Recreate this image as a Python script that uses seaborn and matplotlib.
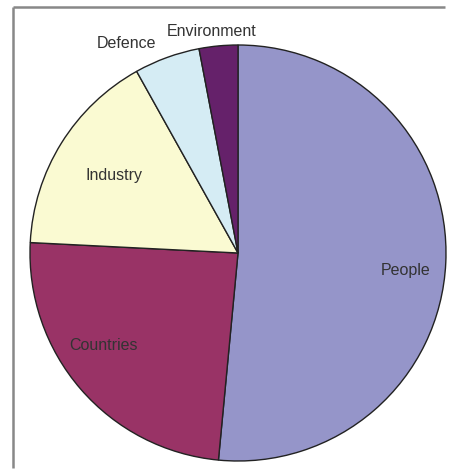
import matplotlib
matplotlib.use("Agg")
import matplotlib.pyplot as plt
import seaborn as sns
from matplotlib.lines import Line2D

categories = ["People", "Countries", "Industry", "Defence", "Environment"]
shares = [51.5, 24.3, 16.1, 5.1, 3.0]
colors = ["#9595c9", "#993366", "#fafad2", "#d5ecf4", "#65216a"]

sns.set_theme(style="white")
plt.rcParams['font.family'] = ['Liberation Sans', 'DejaVu Sans']

W, H = 450, 469
fig = plt.figure(figsize=(W / 100, H / 100), dpi=100)
ax = fig.add_axes([0, 0, 1, 1])

cx, cy, r = 238, H - 253, 208
ax.pie(shares, colors=sns.color_palette(colors), startangle=90, counterclock=False,
       center=(cx, cy), radius=r,
       wedgeprops=dict(edgecolor="#222222", linewidth=1.0))
ax.set_xlim(0, W)
ax.set_ylim(0, H)
ax.set_aspect("equal")
ax.set_axis_off()

label_pos = [(406, 270), (103, 345), (114, 175), (126, 43), (212, 31)]
for name, (x, y) in zip(categories, label_pos):
    ax.text(x, H - y, name, ha="center", va="center", fontsize=11.5, color="#333333")

# frame lines (top and left)
fig.add_artist(Line2D([13 / W, 445 / W], [1 - 7 / H, 1 - 7 / H], transform=fig.transFigure,
                      color="#888888", linewidth=1.8, solid_capstyle="butt"))
fig.add_artist(Line2D([13 / W, 13 / W], [1 / H, 1 - 7 / H], transform=fig.transFigure,
                      color="#888888", linewidth=1.8, solid_capstyle="butt"))

fig.savefig("out.png", dpi=100)
